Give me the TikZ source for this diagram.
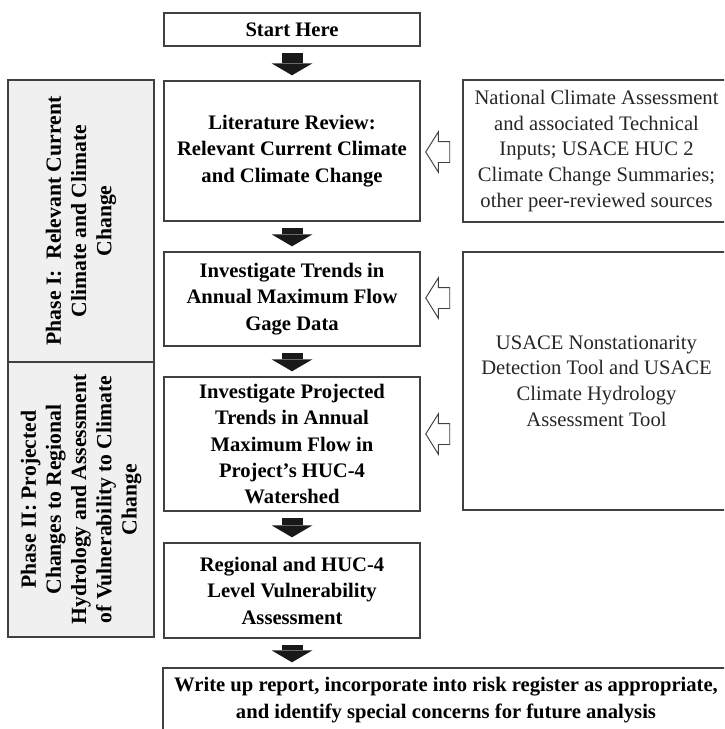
\documentclass[tikz,border=0pt]{standalone}
\usepackage{fontspec}
\setmainfont{Liberation Serif}
\usetikzlibrary{arrows.meta,shapes.arrows}

\begin{document}
\begin{tikzpicture}[x=0.03cm, y=-0.03cm]
    \tikzset{
      box/.style={draw=black!75, line width=1.2pt, align=center, inner sep=2pt,
        font=\fontsize{17.6}{22.6}\selectfont\bfseries},
      mainbox/.style={box, minimum width=7.68cm},
      srcbox/.style={box, minimum width=8.01cm, text=black!85,
        font=\fontsize{17.6}{21.9}\selectfont},
      phase/.style={box, fill=black!6, rotate=90, minimum height=4.38cm,
        font=\fontsize{18.5}{21.5}\selectfont\bfseries},
      down/.style={line width=0.63cm, black!90,
        -{Triangle[length=0.36cm, width=1.23cm, line width=0pt]},
        shorten <=0.18cm, shorten >=0.15cm},
      feed/.style={draw=black!75, line width=0.8pt, fill=white, single arrow,
        shape border rotate=180, inner xsep=0pt, inner ysep=0.3cm,
        minimum height=0.72cm, single arrow head extend=0.29cm,
        single arrow tip angle=116},
    }
    \useasboundingbox (0,0) rectangle (724,729);
    \clip (0,0) rectangle (724,729);

    % main column
    \node [mainbox, minimum height=0.99cm] (start) at (292,29.5) {Start Here};
    \node [mainbox, minimum height=4.2cm] (lit) at (292,151)
      {Literature Review:\\Relevant Current Climate\\and Climate Change};
    \node [mainbox, minimum height=2.82cm] (trends) at (292,299)
      {Investigate Trends in\\Annual Maximum Flow\\Gage Data};
    \node [mainbox, minimum height=4.02cm] (proj) at (292,444)
      {Investigate Projected\\Trends in Annual\\Maximum Flow in\\Project’s HUC-4\\Watershed};
    \node [mainbox, minimum height=2.85cm] (reg) at (292,590.5)
      {Regional and HUC-4\\Level Vulnerability\\Assessment};
    \node [box, minimum width=16.98cm, minimum height=1.92cm] (report) at (446,700)
      {Write up report, incorporate into risk register as appropriate,\\and identify special concerns for future analysis};

    % phases
    \node [phase, minimum width=8.46cm] (ph1) at (81,221)
      {Phase I:\ \ Relevant Current\\Climate and Climate\\Change};
    \node [phase, minimum width=8.25cm] (ph2) at (81,499.5)
      {Phase II: Projected\\Changes to Regional\\Hydrology and Assessment\\of Vulnerability to Climate\\Change};

    % sources
    \node [srcbox, minimum height=4.26cm] (src1) at (596.5,151)
      {National Climate Assessment\\and associated Technical\\Inputs; USACE HUC 2\\Climate Change Summaries;\\other peer-reviewed sources};
    \node [srcbox, minimum height=7.74cm] (src2) at (596.5,381)
      {USACE Nonstationarity\\Detection Tool and USACE\\Climate Hydrology\\Assessment Tool};

    \node [feed] (in1) at (441,152) {};
    \node [feed] (in2) at (441,298) {};
    \node [feed] (in3) at (441,434) {};

    \draw [down] (start) -- (lit);
    \draw [down] (lit) -- (trends);
    \draw [down] (trends) -- (proj);
    \draw [down] (proj) -- (reg);
    \draw [down] (reg) -- (reg |- report.north);

\end{tikzpicture}
\end{document}
